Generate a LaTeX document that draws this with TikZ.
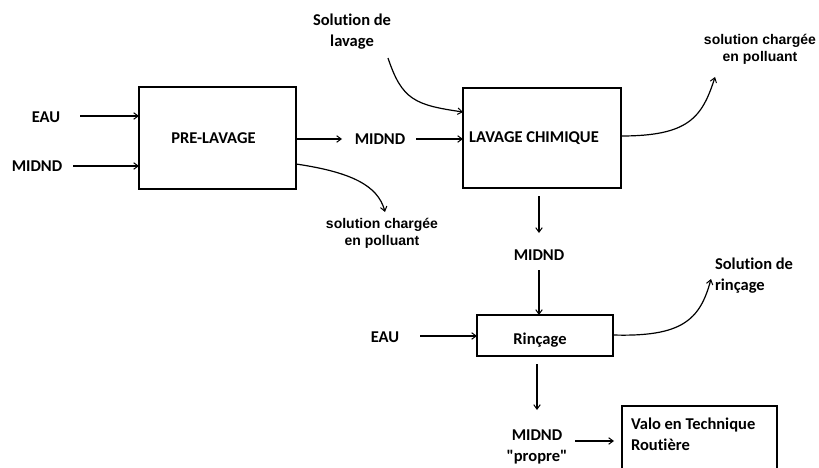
\documentclass[tikz,border=0pt]{standalone}
\usepackage{fontspec}
\newfontfamily\calf{Carlito}[BoldFont={Carlito Bold},RawFeature=-liga]
\newfontfamily\arialf{Liberation Sans}[BoldFont={Liberation Sans Bold}]
\usetikzlibrary{arrows.meta}
\begin{document}
\begin{tikzpicture}[x=1pt,y=-1pt,
  every node/.style={inner sep=0pt,outer sep=0pt},
  lbl/.style={font=\calf\bfseries\fontsize{16.5}{21}\selectfont,align=center},
  albl/.style={font=\arialf\bfseries\fontsize{14}{17}\selectfont,align=center},
  procbox/.style={draw,line width=1.3pt,font=\calf\bfseries\fontsize{16.5}{21}\selectfont,align=center},
  flow/.style={line width=1.2pt,-{Straight Barb[length=4.5pt,width=6.5pt,line width=1pt]}}]
\useasboundingbox (0,0) rectangle (819,468);
% boxes
\node[procbox,minimum width=157,minimum height=102] (pre) at (217.5,138) {\hspace*{-8pt}PRE-LAVAGE};
\node[procbox,minimum width=158,minimum height=100] (chim) at (542,138) {\hspace*{-16pt}LAVAGE CHIMIQUE};
\node[procbox,minimum width=136,minimum height=41] (rin) at (545,335.5) {\hspace*{-10pt}\raisebox{-5pt}[\height][\depth]{Rinçage}};
\node[procbox,anchor=north west,minimum width=155,minimum height=80] (valo) at (622,406) {};
\node[lbl,anchor=north west,align=left] (valotxt) at (631,418) {Valo en Technique\\Routière};
% labels
\node[lbl] (eau1) at (46,117) {EAU};
\node[lbl] (mid1) at (37,166) {MIDND};
\node[lbl] (mid2) at (380,139) {MIDND};
\node[lbl] (sollav) at (352,32) {Solution de\\lavage};
\node[albl] (solch1) at (382,233) {solution chargée\\en polluant};
\node[albl] (solch2) at (760,49) {solution chargée\\en polluant};
\node[lbl] (mid3) at (539,255) {MIDND};
\node[lbl] (eau2) at (385,337) {EAU};
\node[lbl,anchor=west,align=left] (solrin) at (715,276) {Solution de\\rinçage};
\node[lbl] (midp) at (537,447) {MIDND\\"propre"};
% coordinates for curve ends
\coordinate (lavs) at (388,58);
\coordinate (lavin) at (463,112);
\coordinate (preout) at (296,164);
\coordinate (solch1in) at (385,212);
\coordinate (chimout) at (621,136);
\coordinate (solch2in) at (715,77);
\coordinate (rinout) at (613,335);
\coordinate (solrinin) at (711,279);
% connectors
\draw[flow] (80,116) coordinate (e1s) -- (e1s -| pre.west);
\draw[flow] (73,166) coordinate (m1s) -- (m1s -| pre.west);
\draw[flow] (pre.east |- mid2) -- ([shift={(-38,0)}]mid2.center);
\draw[flow] ([shift={(36,0)}]mid2.center) -- (chim.west |- mid2);
\draw[flow] (lavs) .. controls (402,100) and (415,105) .. (lavin);
\draw[flow] (preout) .. controls (350,172) and (378,185) .. (solch1in);
\draw[flow] (chimout) .. controls (688,136) and (702,118) .. (solch2in);
\draw[flow] ([shift={(0,8)}]chim.south -| mid3) -- ([shift={(0,-22)}]mid3.center);
\draw[flow] ([shift={(0,15)}]mid3.center) -- (rin.north -| mid3);
\draw[flow] (420,336) coordinate (e2s) -- (e2s -| rin.west);
\draw[flow] (rinout) .. controls (682,337) and (700,320) .. (solrinin);
\draw[flow] ([shift={(0,8)}]rin.south -| midp) -- ([shift={(0,-37)}]midp.center);
\draw[flow] (575,441) coordinate (ms) -- ([shift={(-8,0)}]ms -| valo.west);
\end{tikzpicture}
\end{document}
